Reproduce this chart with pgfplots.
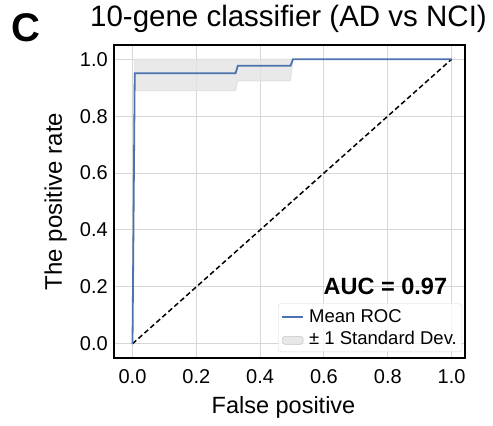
\documentclass[border=0pt]{standalone}
\usepackage{pgfplots}
\pgfplotsset{compat=1.18}
\usepackage{fontspec}
\setmainfont{Liberation Sans}

\definecolor{rocblue}{HTML}{4C72B0}
\definecolor{gridgray}{HTML}{D6D6D6}
\definecolor{bandgray}{HTML}{E3E3E3}

\pgfplotsset{
    bandlegend/.style={legend image code/.code={
        \fill[bandgray] (0bp,-6bp) rectangle (21bp,2bp);
        \draw[black!20, line width=0.6bp] (0bp,-6bp) rectangle (21bp,2bp);
        \path[draw=none, fill=none] (0bp,0bp) -- (25bp,0bp);}},
}

\begin{document}
\begin{tikzpicture}
\begin{axis}[
    name=ax,
    scale only axis,
    width=351bp, height=313bp,
    xmin=-0.058, xmax=1.042,
    ymin=-0.05, ymax=1.05,
    xtick={0,0.2,0.4,0.6,0.8,1.0},
    ytick={0,0.2,0.4,0.6,0.8,1.0},
    xticklabels={0.0,0.2,0.4,0.6,0.8,1.0},
    yticklabels={0.0,0.2,0.4,0.6,0.8,1.0},
    grid=major,
    major grid style={gridgray, line width=1bp},
    major tick length=0pt,
    axis line style={black, line width=2.5bp},
    /pgf/number format/assume math mode=true,
    tick label style={font=\fontsize{20bp}{24bp}\selectfont},
    xticklabel style={inner sep=0pt, yshift=-11bp},
    yticklabel style={inner sep=0pt, xshift=-6bp},
    legend style={
        at={(1,0)}, anchor=south east, xshift=-3bp, yshift=6bp,
        draw=black!15, rounded corners=3bp, fill=white,
        fill opacity=0.8, text opacity=1,
        font=\fontsize{18.5bp}{20bp}\selectfont,
        inner xsep=3bp, inner ysep=4bp, row sep=3bp,
        nodes={inner sep=2bp},
    },
    legend cell align=left,
    legend image code/.code={
        \draw[#1] (0bp,0bp) -- (21bp,0bp);
        \path[draw=none, fill=none] (0bp,0bp) -- (25bp,0bp);
    },
]
% +/- 1 std band (clipped at 1)
\addplot[forget plot, draw=black!12, fill=bandgray, fill opacity=0.8, line width=0.8bp]
    coordinates {
        (0.007, 0.889)
        (0.323, 0.889)
        (0.330, 0.924)
        (0.495, 0.924)
        (0.503, 1.000)
        (0.007, 1.000)
        (0.007, 0.889)
    };
% chance line
\addplot[forget plot, black, line width=1.5bp, dash pattern=on 5bp off 3bp]
    coordinates {(0,0) (1,1)};
% mean ROC
\addplot[rocblue, line width=1.8bp]
    coordinates {
        (0.000, 0.000)
        (0.007, 0.951)
        (0.323, 0.951)
        (0.330, 0.977)
        (0.495, 0.977)
        (0.503, 1.000)
        (1.000, 1.000)
    };
\addlegendentry{Mean ROC}
\addlegendimage{bandlegend}
\addlegendentry{± 1 Standard Dev.}

\node[anchor=base east, font=\fontsize{23.5bp}{26bp}\selectfont\bfseries]
    at (axis cs:0.997,0.172) {AUC = 0.97};
\end{axis}

\node[anchor=base west, inner sep=0pt, font=\fontsize{40bp}{44bp}\selectfont\bfseries]
    at ([xshift=-103bp, yshift=3bp]ax.north west) {C};
\node[anchor=base, font=\fontsize{29.5bp}{32bp}\selectfont]
    at ([xshift=-1bp, yshift=18bp]ax.north) {10-gene classifier (AD vs NCI)};
\node[anchor=base, font=\fontsize{23.5bp}{26bp}\selectfont]
    at ([xshift=-6bp, yshift=-55bp]ax.south) {False positive};
\node[anchor=base, rotate=90, font=\fontsize{24bp}{26bp}\selectfont]
    at ([xshift=-52bp]ax.west) {The positive rate};

\pgfresetboundingbox
\path[use as bounding box] ([xshift=-114bp, yshift=-68bp]ax.south west)
    rectangle ([xshift=28bp, yshift=45bp]ax.north east);
\end{tikzpicture}
\end{document}
